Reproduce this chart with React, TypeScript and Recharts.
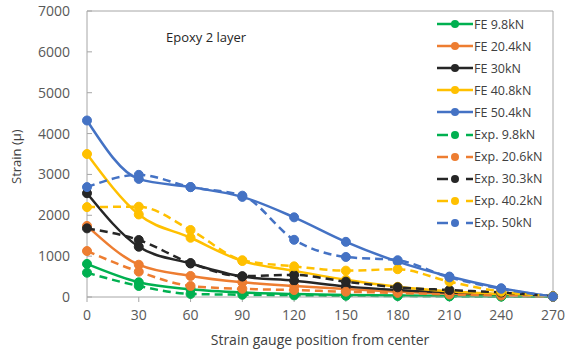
import React from "react";
import { LineChart, Line, XAxis, YAxis, ReferenceLine } from "recharts";

const positions = [0, 30, 60, 90, 120, 150, 180, 210, 240, 270];
const yTicks = [0, 1000, 2000, 3000, 4000, 5000, 6000, 7000];

const fe98 = [810, 360, 190, 110, 75, 50, 35, 25, 15, 5];
const fe204 = [1740, 790, 515, 360, 270, 195, 130, 80, 45, 10];
const fe30 = [2540, 1230, 820, 500, 400, 260, 170, 110, 60, 20];
const fe408 = [3500, 2020, 1450, 880, 640, 420, 250, 140, 70, 20];
const fe504 = [4320, 2890, 2690, 2450, 1950, 1350, 865, 500, 215, 10];
const exp98 = [595, 270, 75, 55, 40, 30, 25, 15, 10, 5];
const exp206 = [1125, 620, 270, 200, 170, 130, 100, 60, 35, 5];
const exp303 = [1680, 1395, 830, 510, 540, 375, 237, 170, 110, 15];
const exp402 = [2200, 2210, 1640, 900, 750, 645, 680, 375, 130, 15];
const exp50 = [2690, 2990, 2690, 2480, 1400, 980, 900, 480, 200, 10];

const series = [
  { key: "fe98", name: "FE 9.8kN", values: fe98, color: "#00b050", dashed: false },
  { key: "fe204", name: "FE 20.4kN", values: fe204, color: "#ed7d31", dashed: false },
  { key: "fe30", name: "FE 30kN", values: fe30, color: "#262626", dashed: false },
  { key: "fe408", name: "FE 40.8kN", values: fe408, color: "#ffc000", dashed: false },
  { key: "fe504", name: "FE 50.4kN", values: fe504, color: "#4472c4", dashed: false },
  { key: "exp98", name: "Exp. 9.8kN", values: exp98, color: "#00b050", dashed: true },
  { key: "exp206", name: "Exp. 20.6kN", values: exp206, color: "#ed7d31", dashed: true },
  { key: "exp303", name: "Exp. 30.3kN", values: exp303, color: "#262626", dashed: true },
  { key: "exp402", name: "Exp. 40.2kN", values: exp402, color: "#ffc000", dashed: true },
  { key: "exp50", name: "Exp. 50kN", values: exp50, color: "#4472c4", dashed: true },
];

const data = positions.map((p, i) => {
  const row: Record<string, number> = { pos: p };
  series.forEach((s) => {
    row[s.key] = s.values[i];
  });
  return row;
});

const FONT = "'Open Sans', 'Liberation Sans', sans-serif";

function LegendBox() {
  return (
    <div
      style={{
        position: "absolute",
        left: 437,
        top: 13,
        fontFamily: FONT,
        fontSize: 12.5,
        color: "#404040",
      }}
    >
      {series.map((s) => (
        <div key={s.key} style={{ display: "flex", alignItems: "center", height: 22.1 }}>
          <svg width={36} height={12} style={{ marginRight: 1 }}>
            {s.dashed ? (
              <>
                <line x1={0} y1={6} x2={11} y2={6} stroke={s.color} strokeWidth={2.5} />
                <line x1={29} y1={6} x2={36} y2={6} stroke={s.color} strokeWidth={2.5} />
              </>
            ) : (
              <line x1={0} y1={6} x2={36} y2={6} stroke={s.color} strokeWidth={2.5} />
            )}
            <circle cx={18} cy={6} r={4} fill={s.color} />
          </svg>
          <span>{s.name}</span>
        </div>
      ))}
    </div>
  );
}

export default function App() {
  return (
    <div style={{ position: "absolute", left: 0, top: 0, width: 570, height: 351, background: "#fff" }}>
      <LineChart
        width={570}
        height={351}
        data={data}
        margin={{ top: 11, right: 17, left: 0, bottom: 22 }}
      >
        <ReferenceLine y={7000} stroke="#a6a6a6" strokeWidth={1} />
        <ReferenceLine x={270} stroke="#a6a6a6" strokeWidth={1} />
        <XAxis
          dataKey="pos"
          type="number"
          domain={[0, 270]}
          ticks={positions}
          interval={0}
          height={32}
          axisLine={{ stroke: "#a6a6a6" }}
          tickLine={{ stroke: "#a6a6a6" }}
          tickSize={5}
          tickMargin={8}
          tick={{ fill: "#595959", fontSize: 14, fontFamily: FONT }}
          label={{
            value: "Strain gauge position from center",
            position: "insideBottom",
            offset: -16,
            fill: "#404040",
            fontSize: 14,
            fontFamily: FONT,
          }}
        />
        <YAxis
          type="number"
          domain={[0, 7000]}
          ticks={yTicks}
          interval={0}
          width={87}
          axisLine={{ stroke: "#a6a6a6" }}
          tickLine={{ stroke: "#a6a6a6" }}
          tickSize={-5}
          tickMargin={22}
          tick={{ fill: "#595959", fontSize: 14, fontFamily: FONT }}
          label={{
            value: "Strain (μ)",
            angle: -90,
            position: "insideLeft",
            offset: 16,
            dy: 30,
            fill: "#404040",
            fontSize: 13,
            fontFamily: FONT,
          }}
        />
        {series.map((s) => (
          <Line
            key={s.key}
            dataKey={s.key}
            name={s.name}
            type="monotone"
            stroke={s.color}
            strokeWidth={2.5}
            strokeDasharray={s.dashed ? "8 5" : undefined}
            dot={{ r: 4.5, fill: s.color, stroke: s.color, strokeWidth: 1, strokeDasharray: "0" }}
            activeDot={false}
            isAnimationActive={false}
          />
        ))}
      </LineChart>
      <div
        style={{
          position: "absolute",
          left: 166,
          top: 28,
          fontFamily: FONT,
          fontSize: 13,
          color: "#262626",
        }}
      >
        Epoxy 2 layer
      </div>
      <LegendBox />
    </div>
  );
}
